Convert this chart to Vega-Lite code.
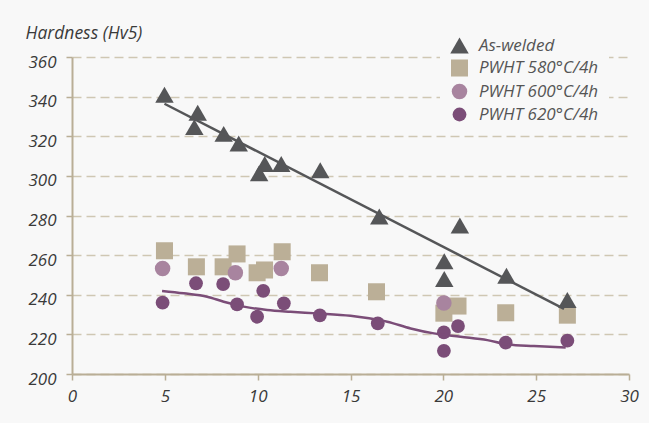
{
  "$schema": "https://vega.github.io/schema/vega-lite/v6.json",
  "width": 557,
  "height": 317,
  "autosize": {"type": "none"},
  "padding": {"left": 72, "top": 57, "right": 20, "bottom": 49},
  "background": "#f8f8f8",
  "datasets": {
    "pts": [
      {"series": "PWHT 580°C/4h", "x": 4.98, "y": 262.2},
      {"series": "PWHT 580°C/4h", "x": 6.70, "y": 254.1},
      {"series": "PWHT 580°C/4h", "x": 8.14, "y": 254.1},
      {"series": "PWHT 580°C/4h", "x": 8.89, "y": 260.6},
      {"series": "PWHT 580°C/4h", "x": 9.97, "y": 251.1},
      {"series": "PWHT 580°C/4h", "x": 10.37, "y": 252.5},
      {"series": "PWHT 580°C/4h", "x": 11.32, "y": 261.7},
      {"series": "PWHT 580°C/4h", "x": 13.33, "y": 251.1},
      {"series": "PWHT 580°C/4h", "x": 16.4, "y": 241.5},
      {"series": "PWHT 580°C/4h", "x": 20.03, "y": 230.7},
      {"series": "PWHT 580°C/4h", "x": 20.79, "y": 234.3},
      {"series": "PWHT 580°C/4h", "x": 23.36, "y": 230.9},
      {"series": "PWHT 580°C/4h", "x": 26.68, "y": 229.7},
      {"series": "PWHT 600°C/4h", "x": 4.88, "y": 253.3},
      {"series": "PWHT 600°C/4h", "x": 8.8, "y": 251.1},
      {"series": "PWHT 600°C/4h", "x": 11.27, "y": 253.3},
      {"series": "PWHT 600°C/4h", "x": 20.03, "y": 235.8},
      {"series": "PWHT 620°C/4h", "x": 4.88, "y": 236.0},
      {"series": "PWHT 620°C/4h", "x": 6.68, "y": 245.8},
      {"series": "PWHT 620°C/4h", "x": 8.14, "y": 245.4},
      {"series": "PWHT 620°C/4h", "x": 8.89, "y": 235.1},
      {"series": "PWHT 620°C/4h", "x": 9.97, "y": 228.9},
      {"series": "PWHT 620°C/4h", "x": 10.3, "y": 242.0},
      {"series": "PWHT 620°C/4h", "x": 11.41, "y": 235.7},
      {"series": "PWHT 620°C/4h", "x": 13.35, "y": 229.6},
      {"series": "PWHT 620°C/4h", "x": 16.47, "y": 225.5},
      {"series": "PWHT 620°C/4h", "x": 20.03, "y": 221.0},
      {"series": "PWHT 620°C/4h", "x": 20.79, "y": 224.2},
      {"series": "PWHT 620°C/4h", "x": 20.03, "y": 211.7},
      {"series": "PWHT 620°C/4h", "x": 23.36, "y": 215.8},
      {"series": "PWHT 620°C/4h", "x": 26.68, "y": 216.8},
      {"series": "As-welded", "x": 4.98, "y": 340.9},
      {"series": "As-welded", "x": 6.77, "y": 331.9},
      {"series": "As-welded", "x": 6.59, "y": 324.6},
      {"series": "As-welded", "x": 8.17, "y": 321.2},
      {"series": "As-welded", "x": 8.98, "y": 316.3},
      {"series": "As-welded", "x": 10.38, "y": 306.0},
      {"series": "As-welded", "x": 10.08, "y": 301.3},
      {"series": "As-welded", "x": 11.27, "y": 306.0},
      {"series": "As-welded", "x": 13.37, "y": 302.8},
      {"series": "As-welded", "x": 16.55, "y": 279.5},
      {"series": "As-welded", "x": 20.89, "y": 274.9},
      {"series": "As-welded", "x": 20.05, "y": 256.9},
      {"series": "As-welded", "x": 20.05, "y": 247.9},
      {"series": "As-welded", "x": 23.4, "y": 249.6},
      {"series": "As-welded", "x": 26.68, "y": 237.3}
    ],
    "fits": [
      {"fit": "aw", "x": 4.98, "y": 336.4},
      {"fit": "aw", "x": 26.5, "y": 232.9},
      {"fit": "p620", "x": 4.85, "y": 241.9},
      {"fit": "p620", "x": 6.02, "y": 240.7},
      {"fit": "p620", "x": 7.28, "y": 239.0},
      {"fit": "p620", "x": 8.17, "y": 236.5},
      {"fit": "p620", "x": 9.25, "y": 234.0},
      {"fit": "p620", "x": 10.51, "y": 232.3},
      {"fit": "p620", "x": 11.77, "y": 231.4},
      {"fit": "p620", "x": 13.2, "y": 230.6},
      {"fit": "p620", "x": 15.0, "y": 229.4},
      {"fit": "p620", "x": 16.0, "y": 228.1},
      {"fit": "p620", "x": 16.98, "y": 226.4},
      {"fit": "p620", "x": 18.24, "y": 223.0},
      {"fit": "p620", "x": 19.49, "y": 220.5},
      {"fit": "p620", "x": 20.93, "y": 218.8},
      {"fit": "p620", "x": 22.37, "y": 217.1},
      {"fit": "p620", "x": 23.45, "y": 214.9},
      {"fit": "p620", "x": 24.88, "y": 214.1},
      {"fit": "p620", "x": 26.59, "y": 213.4}
    ]
  },
  "encoding": {
    "x": {
      "field": "x", "type": "quantitative",
      "scale": {"domain": [0, 30], "nice": false, "zero": false},
      "axis": {
        "title": null, "values": [0, 5, 10, 15, 20, 25, 30], "grid": false,
        "domainColor": "#b9ae96", "domainWidth": 2,
        "tickColor": "#b9ae96", "tickWidth": 1.5, "tickSize": 6,
        "labelFont": "Open Sans", "labelFontStyle": "italic", "labelFontSize": 17,
        "labelColor": "#3a3a3a", "labelPadding": 8, "labelFlush": false
      }
    },
    "y": {
      "field": "y", "type": "quantitative",
      "scale": {"domain": [200, 360], "nice": false, "zero": false},
      "axis": {
        "title": "Hardness (Hv5)", "titleAngle": 0, "titleAlign": "left",
        "titleBaseline": "alphabetic", "titleX": -47, "titleY": -19,
        "titleFont": "Open Sans", "titleFontStyle": "italic", "titleFontWeight": "normal",
        "titleFontSize": 17.5, "titleColor": "#3a3a3a",
        "values": [200, 220, 240, 260, 280, 300, 320, 340, 360],
        "grid": true, "gridColor": "#cfc7b3", "gridDash": [9, 5], "gridWidth": 1.5,
        "domainColor": "#b9ae96", "domainWidth": 2,
        "tickColor": "#b9ae96", "tickWidth": 1.5, "tickSize": 6,
        "labelFont": "Open Sans", "labelFontStyle": "italic", "labelFontSize": 17,
        "labelColor": "#3a3a3a", "labelPadding": 10, "labelOffset": 5, "labelFlush": false
      }
    }
  },
  "layer": [
    {
      "data": {"name": "pts"},
      "mark": {"type": "point", "filled": true, "opacity": 1, "strokeWidth": 0},
      "encoding": {
        "shape": {
          "field": "series", "type": "nominal",
          "scale": {"domain": ["As-welded", "PWHT 580°C/4h", "PWHT 600°C/4h", "PWHT 620°C/4h"],
                    "range": ["triangle-up", "square", "circle", "circle"]}
        },
        "color": {
          "field": "series", "type": "nominal",
          "scale": {"domain": ["As-welded", "PWHT 580°C/4h", "PWHT 600°C/4h", "PWHT 620°C/4h"],
                    "range": ["#555658", "#bbaf97", "#a8849f", "#7b4d78"]}
        },
        "size": {
          "field": "series", "type": "nominal",
          "scale": {"domain": ["As-welded", "PWHT 580°C/4h", "PWHT 600°C/4h", "PWHT 620°C/4h"],
                    "range": [340, 190, 165, 165]}
        }
      }
    },
    {
      "data": {"name": "fits"},
      "transform": [{"filter": "datum.fit === 'aw'"}],
      "mark": {"type": "line", "color": "#555658", "strokeWidth": 2.5},
      "encoding": {}
    },
    {
      "data": {"name": "fits"},
      "transform": [{"filter": "datum.fit === 'p620'"}],
      "mark": {"type": "line", "color": "#7b4d78", "strokeWidth": 2.5, "interpolate": "monotone"},
      "encoding": {}
    }
  ],
  "config": {
    "view": {"stroke": null},
    "font": "Open Sans",
    "legend": {
      "orient": "none", "legendX": 368, "legendY": -31,
      "title": null, "fillColor": "#f8f8f8", "padding": 10,
      "labelFont": "Open Sans", "labelFontStyle": "italic", "labelFontSize": 17,
      "labelColor": "#555555", "labelOffset": 10, "rowPadding": 5,
      "symbolOpacity": 1, "symbolStrokeWidth": 0
    }
  }
}
